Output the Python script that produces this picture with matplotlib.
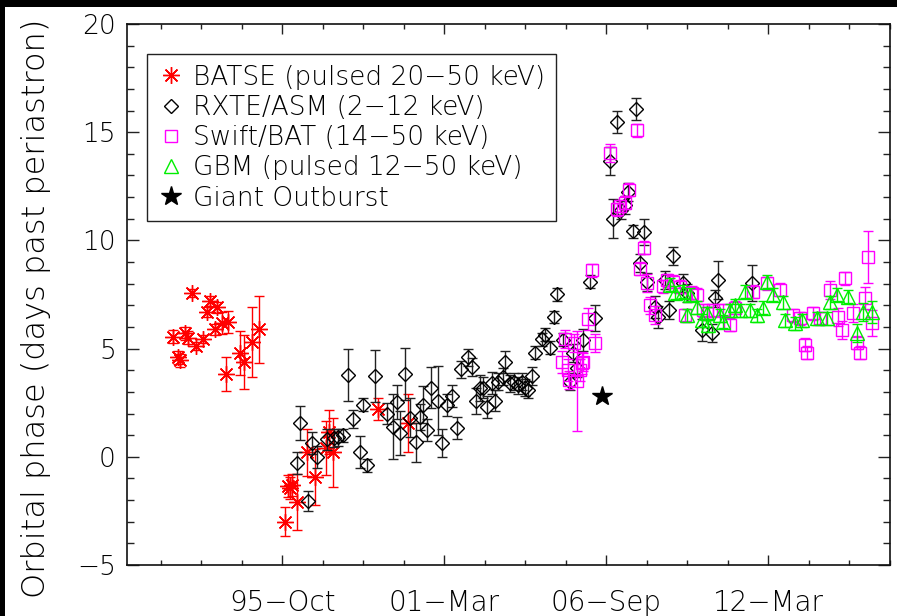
import matplotlib
matplotlib.use("Agg")
import matplotlib.pyplot as plt
from matplotlib.lines import Line2D
from matplotlib.patches import Rectangle
from matplotlib.ticker import MultipleLocator, FixedLocator, FixedFormatter
import numpy as np

# ---- data: MJD, orbital phase (days past periastron), 1-sigma error ----
batse_mjd = [48654, 48716, 48741, 48802, 48839, 48889, 48938, 49025, 49074, 49111,
             49173, 49198, 49259, 49333, 49309, 49481, 49531, 49630, 49716,
             50037, 50074, 50099, 50124, 50185, 50309, 50407, 50543, 50580, 50630,
             51185, 51555]
batse_phase = [5.54, 4.6, 4.47, 5.72, 5.5, 7.57, 5.12, 5.44, 6.69, 7.2,
               5.9, 6.9, 6.18, 6.23, 3.83, 4.8, 4.38, 5.3, 5.9,
               -3.0, -1.35, -1.45, -1.3, -2.1, 0.2, -0.95, 0.4, 1.15, 0.2,
               2.2, 1.57]
batse_err = [0.3, 0.3, 0.3, 0.3, 0.3, 0.2, 0.2, 0.2, 0.25, 0.25,
             0.25, 0.25, 0.5, 0.5, 0.78, 1.0, 1.25, 1.6, 1.55,
             0.67, 0.5, 0.5, 0.5, 1.3, 1.1, 1.3, 1.25, 1.0, 1.6,
             0.5, 1.35]

asm_mjd = [50185, 50222, 50321, 50370, 50432, 50556, 50642, 50691, 50753, 50815,
           50877, 50963, 51000, 51049, 51148, 51296, 51370, 51420, 51457, 51519,
           51580, 51654, 51704, 51741, 51790, 51840, 51926, 51975, 52037, 52099,
           52161, 52210, 52296, 52346, 52395, 52444, 52482, 52531, 52593, 52630,
           52667, 52728, 52753, 52815, 52864, 52914, 52963, 53000, 53037, 53086,
           53124, 53210, 53247, 53309, 53358, 53395, 53469, 53556, 53593, 53642,
           53716, 53802, 53864, 54049, 54086, 54136, 54185, 54235, 54272, 54333,
           54370, 54420, 54469, 54506, 54605, 54642, 54728, 54778, 54827, 54951,
           55000, 55185, 55309, 55346, 55383, 55802]
asm_phase = [-0.28, 1.56, -2.05, 0.63, 0.0, 0.8, 0.87, 0.9, 1.0, 3.78,
             1.75, 0.23, 2.4, -0.4, 3.73, 2.0, 1.4, 2.53, 1.1, 3.83,
             1.8, 0.68, 1.84, 2.4, 1.25, 3.2, 2.6, 0.65, 2.4, 2.8,
             1.34, 4.05, 4.6, 4.15, 2.6, 3.2, 3.2, 2.3, 3.4, 2.6,
             3.47, 3.7, 4.38, 3.4, 3.47, 3.3, 3.47, 3.2, 3.1, 3.73,
             4.8, 5.44, 5.63, 5.03, 6.46, 7.52, 5.4, 3.47, 4.8, 4.1,
             5.4, 8.08, 6.41, 13.67, 11.0, 15.47, 11.4, 11.64, 12.24, 10.43,
             16.07, 8.95, 10.39, 8.08, 6.92, 6.46, 8.17, 6.78, 9.28, 8.03,
             7.57, 5.85, 5.72, 7.33, 8.17, 8.03]
asm_err = [0.5, 0.8, 0.45, 0.5, 0.5, 0.5, 0.4, 0.4, 0.3, 1.2,
           0.4, 0.75, 0.3, 0.3, 1.2, 0.5, 1.5, 0.8, 1.0, 1.2,
           0.9, 0.9, 0.6, 0.85, 0.5, 0.95, 1.6, 0.65, 0.5, 0.5,
           0.5, 0.4, 0.4, 0.4, 0.6, 0.6, 0.5, 0.5, 0.5, 0.5,
           0.4, 0.4, 0.5, 0.4, 0.4, 0.4, 0.4, 0.4, 0.4, 0.4,
           0.3, 0.3, 0.3, 0.3, 0.3, 0.3, 0.3, 0.4, 0.4, 0.4,
           0.5, 0.3, 0.6, 0.65, 0.9, 0.5, 0.4, 0.4, 0.4, 0.3,
           0.5, 0.4, 0.6, 0.4, 0.5, 0.5, 0.4, 0.4, 0.4, 0.4,
           0.4, 0.5, 0.4, 0.4, 0.9, 0.85]

bat_mjd = [53457, 53494, 53531, 53543, 53605, 53642, 53679, 53704, 53716, 53778,
           53827, 53864, 54049, 54136, 54173, 54235, 54284, 54383, 54420, 54469,
           54506, 54543, 54605, 54704, 54753, 54827, 54914, 54975, 55062, 55124,
           55198, 55247, 55321, 55444, 55531, 55593, 55815, 55988, 56148, 56309,
           56395, 56457, 56481, 56556, 56642, 56765, 56864, 56914, 56951, 57049,
           57099, 57136, 57198, 57235, 57284]
bat_phase = [4.38, 5.44, 4.0, 3.55, 5.26, 3.5, 4.01, 4.33, 4.38, 6.37,
             8.63, 5.26, 14.04, 11.45, 11.59, 11.73, 12.33, 15.1, 8.68, 9.65,
             8.03, 7.0, 6.55, 7.89, 8.17, 8.08, 7.85, 6.55, 7.57, 7.48,
             6.78, 6.64, 6.78, 6.78, 6.1, 6.88, 7.62, 8.03, 7.71, 6.55,
             6.41, 5.17, 4.8, 6.64, 6.41, 7.71, 6.46, 5.86, 8.26, 6.64,
             5.26, 4.8, 7.33, 9.23, 6.18]
bat_err = [0.5, 0.4, 0.5, 0.4, 0.4, 2.3, 0.5, 0.5, 0.4, 0.5,
           0.3, 0.4, 0.4, 0.3, 0.3, 0.3, 0.3, 0.3, 0.3, 0.3,
           0.4, 0.4, 0.4, 0.3, 0.3, 0.3, 0.3, 0.3, 0.3, 0.3,
           0.3, 0.3, 0.3, 0.3, 0.3, 0.3, 0.3, 0.3, 0.3, 0.3,
           0.3, 0.3, 0.3, 0.3, 0.3, 0.4, 0.4, 0.4, 0.3, 0.4,
           0.3, 0.3, 0.5, 1.2, 0.6]

gbm_mjd = [54790, 54852, 54951, 55000, 55037, 55124, 55185, 55247, 55259, 55407,
           55444, 55531, 55593, 55654, 55716, 55778, 55864, 55938, 55988, 56062,
           56185, 56210, 56333, 56420, 56605, 56728, 56765, 56852, 56988, 57099,
           57173, 57284]
gbm_phase = [7.94, 7.57, 7.62, 6.55, 7.48, 6.92, 6.32, 6.64, 6.09, 6.55,
             6.23, 6.78, 7.01, 6.78, 7.62, 6.78, 6.55, 6.88, 8.08, 7.48,
             7.15, 6.32, 6.18, 6.32, 6.41, 6.41, 7.15, 7.48, 7.39, 5.72,
             6.69, 6.69]
gbm_err = [0.3] * 29 + [0.4, 0.4, 0.5]

outburst_mjd = [53952]
outburst_phase = [2.81]

xtick_mjd = [50000, 52000, 54000, 56000]
xtick_labels = ["95\u2212Oct", "01\u2212Mar", "06\u2212Sep", "12\u2212Mar"]

legend_labels = ["BATSE (pulsed 20\u221250 keV)", "RXTE/ASM (2\u221212 keV)",
                 "Swift/BAT (14\u221250 keV)", "GBM (pulsed 12\u221250 keV)",
                 "Giant Outburst"]

# ---- figure ----
plt.rcParams["font.family"] = ["DejaVu Sans"]
plt.rcParams["axes.unicode_minus"] = True

W, H = 897, 616
fig = plt.figure(figsize=(W / 100, H / 100), dpi=100)
fig.patch.set_facecolor("white")
ax = fig.add_axes([127 / W, 1 - 565 / H, (890 - 127) / W, (565 - 24) / H])

RED = "#ff0000"
MAG = "#ff00ff"
GRN = "#00ee00"
BLK = "#000000"

common = dict(linestyle="none", capsize=3.6, elinewidth=1.0, capthick=1.0,
              markeredgewidth=1.0)

ax.errorbar(batse_mjd, batse_phase, yerr=batse_err, marker=(8, 2, 0), ms=12,
            color=RED, mec=RED, mfc="none", ecolor=RED, zorder=2, **common)
ax.errorbar(asm_mjd, asm_phase, yerr=asm_err, marker="D", ms=7.5,
            color=BLK, mec=BLK, mfc="none", ecolor="#222222", zorder=3, **common)
ax.errorbar(bat_mjd, bat_phase, yerr=bat_err, marker="s", ms=9,
            color=MAG, mec=MAG, mfc="none", ecolor=MAG, zorder=4, **common)
ax.errorbar(gbm_mjd, gbm_phase, yerr=gbm_err, marker="^", ms=9.5,
            color=GRN, mec=GRN, mfc="none", ecolor=GRN, zorder=5, **common)
ax.plot(outburst_mjd, outburst_phase, linestyle="none", marker="*", ms=15,
        color=BLK, zorder=6)

ax.set_xlim(48086, 57506)
ax.set_ylim(-5, 20)

ax.xaxis.set_major_locator(FixedLocator(xtick_mjd))
ax.xaxis.set_major_formatter(FixedFormatter(xtick_labels))
ax.xaxis.set_minor_locator(MultipleLocator(500))
ax.yaxis.set_major_locator(MultipleLocator(5))
ax.yaxis.set_minor_locator(MultipleLocator(1))

ax.tick_params(axis="both", which="both", direction="in", top=True, right=True,
               color="#222222", width=1.0, labelsize=18)
ax.tick_params(axis="x", which="major", length=7.2, pad=17, labelsize=20)
ax.tick_params(axis="x", which="minor", length=3.6)
ax.tick_params(axis="y", which="major", length=8.6, pad=8, labelsize=19)
ax.tick_params(axis="y", which="minor", length=5.0)
for lab in ax.get_xticklabels() + ax.get_yticklabels():
    lab.set_fontweight("light")

for sp in ax.spines.values():
    sp.set_linewidth(1.2)
    sp.set_color("#111111")

ax.set_ylabel("Orbital phase (days past periastron)", fontsize=23,
              fontweight="light")
ax.yaxis.set_label_coords(-0.10, 0.475)

handles = [
    Line2D([], [], linestyle="none", marker=(8, 2, 0), ms=12, mec=RED, mew=1.0),
    Line2D([], [], linestyle="none", marker="D", ms=7.0, mec=BLK, mfc="none", mew=1.0),
    Line2D([], [], linestyle="none", marker="s", ms=8.8, mec=MAG, mfc="none", mew=1.0),
    Line2D([], [], linestyle="none", marker="^", ms=9.5, mec=GRN, mfc="none", mew=1.0),
    Line2D([], [], linestyle="none", marker="*", ms=15, color=BLK),
]
leg = ax.legend(handles, legend_labels, loc="upper left",
                bbox_to_anchor=(20 / 763, (565 - 54) / 541), borderaxespad=0,
                handlelength=1.0, handletextpad=0.35,
                labelspacing=0.2, borderpad=0.4, fancybox=False,
                framealpha=1, edgecolor="#222222",
                prop={"size": 19, "weight": "light"})
leg.get_frame().set_linewidth(1.0)

# dark strips along the top and left edges of the canvas
fig.patches.append(Rectangle((0, 1 - 7 / H), 1, 7 / H, transform=fig.transFigure,
                             facecolor="black", edgecolor="none", zorder=10))
fig.patches.append(Rectangle((0, 0), 5 / W, 1, transform=fig.transFigure,
                             facecolor="black", edgecolor="none", zorder=10))

fig.savefig("out.png", dpi=100)
